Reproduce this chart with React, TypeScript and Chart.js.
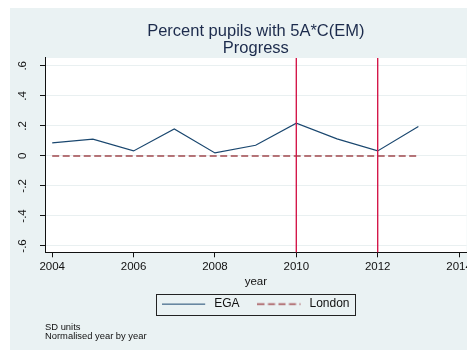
import React, { useEffect, useRef } from 'react';
import { Chart, registerables } from 'chart.js';

Chart.register(...registerables);

const years = [2004, 2005, 2006, 2007, 2008, 2009, 2010, 2011, 2012, 2013];
const egaValues = [0.087, 0.111, 0.033, 0.18, 0.02, 0.071, 0.218, 0.113, 0.033, 0.196];
const londonValues = [0, 0, 0, 0, 0, 0, 0, 0, 0, 0];
const seriesNames = ['EGA', 'London'];
const xTickValues = [2004, 2006, 2008, 2010, 2012, 2014];
const yTickValues = [-0.6, -0.4, -0.2, 0, 0.2, 0.4, 0.6];
const markerYears = [2010, 2012];
const titleLines = ['Percent pupils with 5A*C(EM)', 'Progress'];
const noteLines = ['SD units', 'Normalised year by year'];
const xAxisTitle = 'year';

const FONT = "'Liberation Sans', Arial, Helvetica, sans-serif";
const EGA_COLOR = '#1a476f';
const LONDON_COLOR = '#a0484e';

const fmtY = (v: number) => {
  if (Math.abs(v) < 1e-9) return '0';
  return (Math.round(v * 10) / 10).toString().replace('0.', '.');
};

const makeLegendLine = (color: string, width: number, dash: number[]) => {
  const c = document.createElement('canvas');
  c.width = 46;
  c.height = 5;
  const g = c.getContext('2d')!;
  g.strokeStyle = color;
  g.lineWidth = width;
  g.setLineDash(dash);
  g.beginPath();
  g.moveTo(0, 2.5);
  g.lineTo(43, 2.5);
  g.stroke();
  return c;
};

const bgPlugin = {
  id: 'bgPlugin',
  beforeDraw(chart: any) {
    const { ctx, chartArea: a, width, height } = chart;
    ctx.save();
    ctx.fillStyle = '#eaf2f3';
    ctx.fillRect(0, 0, width, height);
    ctx.fillStyle = '#ffffff';
    ctx.fillRect(a.left, a.top, a.right - a.left, a.bottom - a.top);
    ctx.restore();
  },
};

const markerPlugin = {
  id: 'markerPlugin',
  afterDatasetsDraw(chart: any) {
    const { ctx, chartArea: a } = chart;
    const xs = chart.scales.x;
    ctx.save();
    ctx.strokeStyle = '#d4184a';
    ctx.lineWidth = 1.4;
    markerYears.forEach((yr) => {
      const px = xs.getPixelForValue(yr);
      ctx.beginPath();
      ctx.moveTo(px, a.top);
      ctx.lineTo(px, a.bottom);
      ctx.stroke();
    });
    ctx.restore();
  },
};

const legendBoxPlugin = {
  id: 'legendBoxPlugin',
  afterDraw(chart: any) {
    const lg = chart.legend;
    if (!lg || !lg.legendHitBoxes || !lg.legendHitBoxes.length) return;
    const hb = lg.legendHitBoxes;
    let l = Infinity, r = -Infinity, t = Infinity, b = -Infinity;
    hb.forEach((h: any) => {
      l = Math.min(l, h.left);
      r = Math.max(r, h.left + h.width);
      t = Math.min(t, h.top);
      b = Math.max(b, h.top + h.height);
    });
    const cy = (t + b) / 2;
    const { ctx } = chart;
    ctx.save();
    ctx.strokeStyle = '#222';
    ctx.lineWidth = 1;
    ctx.strokeRect(Math.round(l - 6) + 0.5, Math.round(cy - 10.5) + 0.5, Math.round(r - l + 12), 21);
    ctx.restore();
  },
};

export default function App() {
  const ref = useRef<HTMLCanvasElement | null>(null);
  useEffect(() => {
    document.documentElement.style.overflow = 'hidden';
    document.body.style.overflow = 'hidden';
    const canvas = ref.current;
    if (!canvas) return;
    const legendImgs = [
      makeLegendLine(EGA_COLOR, 1.2, []),
      makeLegendLine(LONDON_COLOR, 1.5, [7, 3.5]),
    ];
    const chart = new Chart(canvas, {
      type: 'line',
      data: {
        datasets: [
          {
            label: seriesNames[0],
            data: years.map((y, i) => ({ x: y, y: egaValues[i] })),
            borderColor: EGA_COLOR,
            backgroundColor: EGA_COLOR,
            borderWidth: 1.2,
            pointRadius: 0,
            tension: 0,
          },
          {
            label: seriesNames[1],
            data: years.map((y, i) => ({ x: y, y: londonValues[i] })),
            borderColor: LONDON_COLOR,
            backgroundColor: LONDON_COLOR,
            borderWidth: 1.5,
            borderDash: [7, 3.5],
            pointRadius: 0,
            tension: 0,
          },
        ],
      },
      options: {
        animation: false,
        responsive: false,
        devicePixelRatio: 1,
        layout: { padding: { left: 0, right: 2.3, top: 0, bottom: 0 } },
        scales: {
          x: {
            type: 'linear',
            min: 2003.823,
            max: 2014.187,
            afterBuildTicks: (s: any) => {
              s.ticks = xTickValues.map((v) => ({ value: v }));
            },
            afterFit: (s: any) => {
              s.height = 27.8;
            },
            ticks: {
              callback: (v: any) => String(v),
              font: { family: FONT, size: 11.5 },
              color: '#111',
              padding: 3,
              maxRotation: 0,
              minRotation: 0,
              autoSkip: false,
            },
            grid: {
              drawOnChartArea: false,
              drawTicks: true,
              tickLength: 5,
              tickColor: '#111',
              tickWidth: 1,
            },
            border: { display: true, color: '#111', width: 1 },
            title: {
              display: true,
              text: xAxisTitle,
              color: '#111',
              font: { family: FONT, size: 11.5, lineHeight: 1.2 },
              padding: { top: 0, bottom: -8.9 },
            },
          },
          y: {
            type: 'linear',
            min: -0.642,
            max: 0.652,
            afterBuildTicks: (s: any) => {
              s.ticks = yTickValues.map((v) => ({ value: v }));
            },
            afterFit: (s: any) => {
              s.width = 35;
            },
            ticks: {
              callback: (v: any) => fmtY(Number(v)),
              font: { family: FONT, size: 11.5 },
              color: '#111',
              padding: 10.5,
              minRotation: 90,
              maxRotation: 90,
              crossAlign: 'center',
              autoSkip: false,
            },
            grid: {
              color: '#e9f0f1',
              lineWidth: 1,
              drawTicks: true,
              tickLength: 5,
              tickColor: '#111',
              tickWidth: 1,
            },
            border: { display: true, color: '#111', width: 1 },
          },
        },
        plugins: {
          title: {
            display: true,
            text: titleLines,
            fullSize: false,
            color: '#1c2b4c',
            font: { family: FONT, size: 16.5, weight: 'normal', lineHeight: 1.03 },
            padding: { top: 14.5, bottom: 1.5 },
          },
          subtitle: {
            display: true,
            text: noteLines,
            position: 'bottom',
            align: 'start',
            fullSize: false,
            color: '#111',
            font: { family: FONT, size: 9.4, weight: 'normal', lineHeight: '8.8px' },
            padding: { top: 3.2, bottom: 9.1 },
          },
          legend: {
            display: true,
            position: 'bottom',
            fullSize: false,
            labels: {
              usePointStyle: true,
              pointStyleWidth: 46,
              padding: 18,
              color: '#111',
              font: { family: FONT, size: 12 },
              generateLabels: (ch: any) =>
                ch.data.datasets.map((ds: any, i: number) => ({
                  text: ds.label,
                  pointStyle: legendImgs[i],
                  fillStyle: 'transparent',
                  strokeStyle: 'transparent',
                  lineWidth: 0,
                  hidden: false,
                  datasetIndex: i,
                  fontColor: '#111',
                })),
            },
          },
          tooltip: { enabled: false },
        },
      },
      plugins: [bgPlugin, markerPlugin, legendBoxPlugin],
    } as any);
    return () => chart.destroy();
  }, []);
  return (
    <div style={{ marginLeft: 2 }}>
      <canvas ref={ref} width={465} height={342} style={{ display: 'block', width: 465, height: 342 }} />
    </div>
  );
}
